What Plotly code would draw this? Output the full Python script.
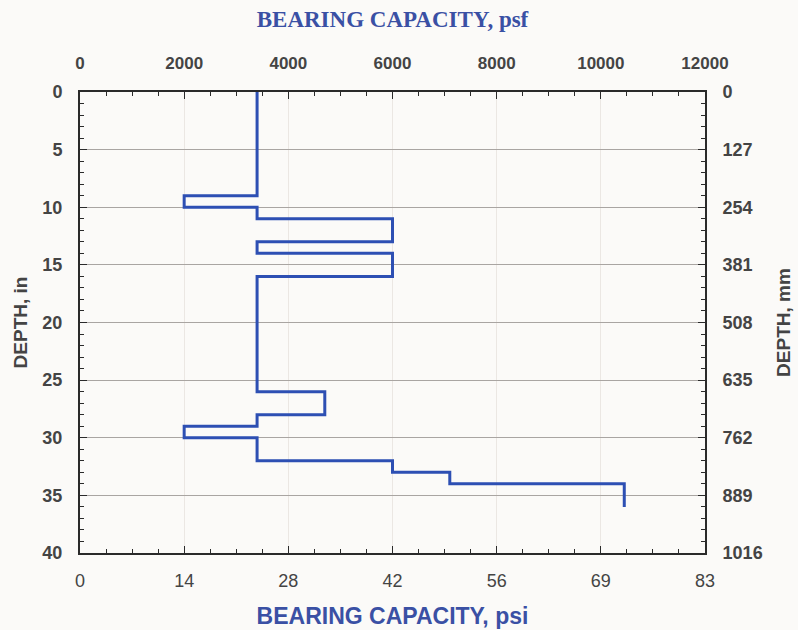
import plotly.graph_objects as go

# Soil layers: top / bottom depth (in) and bearing capacity (psf)
layer_top_in = [0, 9, 10, 11, 13, 14, 16, 26, 28, 29, 30, 32, 33, 34]
layer_bottom_in = [9, 10, 11, 13, 14, 16, 26, 28, 29, 30, 32, 33, 34, 36]
capacity_psf = [3400, 2000, 3400, 6000, 3400, 6000, 3400, 4700, 3400, 2000, 3400, 6000, 7100, 10450]

# Axis ticks
psf_ticks = [0, 2000, 4000, 6000, 8000, 10000, 12000]
psi_labels = ["0", "14", "28", "42", "56", "69", "83"]
depth_ticks_in = [0, 5, 10, 15, 20, 25, 30, 35, 40]
depth_labels_mm = ["0", "127", "254", "381", "508", "635", "762", "889", "1016"]

# Build the stepped profile from the layer table
xs, ys = [], []
for top, bot, val in zip(layer_top_in, layer_bottom_in, capacity_psf):
    xs += [val, val]
    ys += [top, bot]

BG = "#fbfaf8"
BLUE = "#3a50a4"
TICK = "#444444"
FRAME = "#2a2a2a"
SANS = "Arial, Liberation Sans, sans-serif"
NARROW = "Liberation Sans Narrow, Arial Narrow, sans-serif"

fig = go.Figure()
fig.add_trace(go.Scatter(x=xs, y=ys, mode="lines",
                         line=dict(color="#2d4fb3", width=3),
                         showlegend=False, hoverinfo="skip"))
# invisible trace tying secondary axes
fig.add_trace(go.Scatter(x=[0], y=[0], xaxis="x2", yaxis="y2", mode="markers",
                         marker=dict(opacity=0), showlegend=False, hoverinfo="skip"))

common_x = dict(range=[0, 12000], tickvals=psf_ticks, showline=True, linecolor=FRAME,
                linewidth=2, ticks="inside", ticklen=7, tickcolor=FRAME,
                minor=dict(dtick=500, ticks="inside", ticklen=4, tickcolor=FRAME),
                zeroline=False, automargin=False)
common_y = dict(range=[40, 0], tickvals=depth_ticks_in, showline=True, linecolor=FRAME,
                linewidth=2, ticks="inside", ticklen=7, tickcolor=FRAME,
                minor=dict(dtick=1, ticks="inside", ticklen=4, tickcolor=FRAME),
                zeroline=False, automargin=False)

fig.update_layout(
    width=798, height=630,
    margin=dict(l=80, r=93, t=92, b=77),
    paper_bgcolor=BG, plot_bgcolor=BG,
    xaxis=dict(**common_x, side="bottom", ticktext=psi_labels,
               showgrid=True, gridcolor="#ebe7e3", gridwidth=1,
               tickfont=dict(family=NARROW, size=18, color=TICK), ticklabelstandoff=10,
               title=dict(text="<b>BEARING CAPACITY, psi</b>", standoff=18,
                          font=dict(family=SANS, size=23, color=BLUE))),
    xaxis2=dict(**common_x, side="top", overlaying="x", ticktext=[str(v) for v in psf_ticks],
                showgrid=False, ticklabelstandoff=14,
                tickfont=dict(family=SANS, size=17, color=TICK, weight="bold"),
                title=dict(text="<b>BEARING CAPACITY, psf</b>", standoff=20,
                           font=dict(family="Liberation Serif, Times New Roman, serif",
                                     size=23, color=BLUE))),
    yaxis=dict(**common_y, ticktext=[str(v) for v in depth_ticks_in],
               showgrid=True, gridcolor="#a9a5a2", gridwidth=1,
               tickfont=dict(family=NARROW, size=18, color=TICK, weight="bold"),
               ticklabelstandoff=12,
               title=dict(text="<b>DEPTH, in</b>", standoff=10,
                          font=dict(family=SANS, size=19, color=TICK))),
    yaxis2=dict(**common_y, side="right", overlaying="y", ticktext=depth_labels_mm,
                showgrid=False, ticklabelstandoff=12,
                tickfont=dict(family=NARROW, size=18, color=TICK, weight="bold"),
                title=dict(text="<b>DEPTH, mm</b>", standoff=15,
                           font=dict(family=SANS, size=19, color=TICK))),
)

fig.write_html("out.html")
